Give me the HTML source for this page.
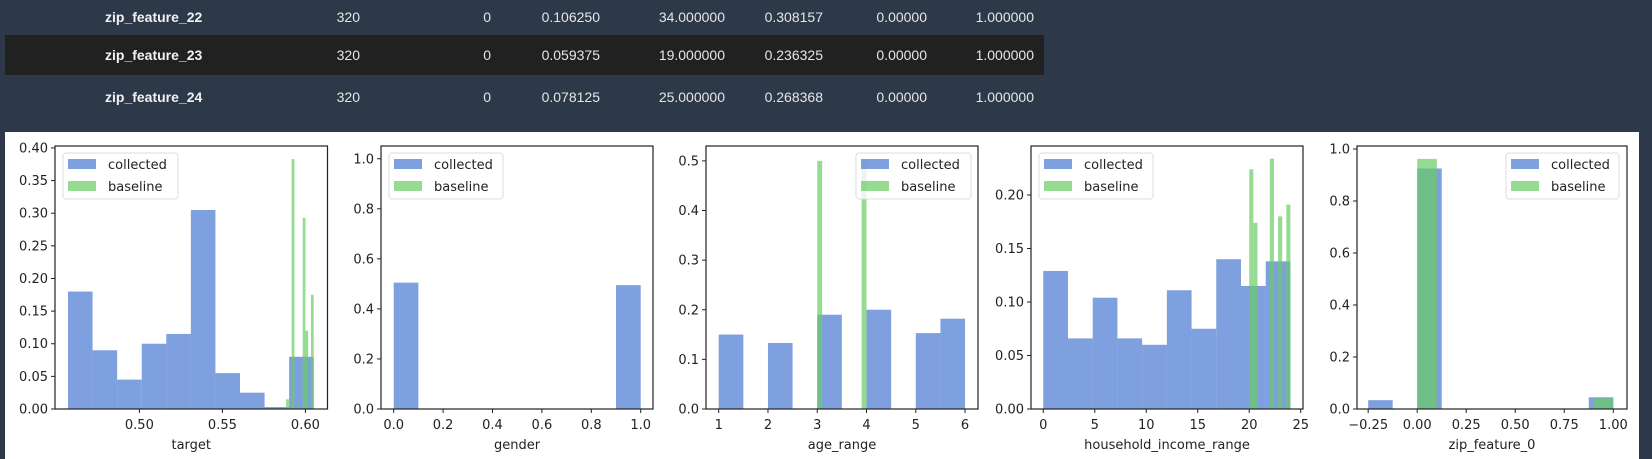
<!DOCTYPE html>
<html><head><meta charset="utf-8">
<style>
html,body{margin:0;padding:0;}
body{width:1652px;height:459px;background:#2d3849;position:relative;overflow:hidden;font-family:"Liberation Sans",sans-serif;}
.row{position:absolute;left:5px;width:1039px;height:38px;}
.cell{position:absolute;top:0;line-height:38px;font-size:14px;color:#e6e6e6;white-space:nowrap;}
.name{font-weight:bold;color:#f2f2f2;left:100px;}
.r{text-align:right;}
#panel{position:absolute;left:5px;top:132px;width:1634px;height:327px;background:#fff;}
svg{position:absolute;left:0;top:0;}
</style></head><body>
<div class="row" style="top:-2px;">
 <div class="cell name">zip_feature_22</div>
 <div class="cell r" style="right:684px">320</div>
 <div class="cell r" style="right:553px">0</div>
 <div class="cell r" style="right:444px">0.106250</div>
 <div class="cell r" style="right:319px">34.000000</div>
 <div class="cell r" style="right:221px">0.308157</div>
 <div class="cell r" style="right:117px">0.00000</div>
 <div class="cell r" style="right:10px">1.000000</div>
</div>
<div class="row" style="top:35px;background:#212121;height:40px;">
 <div class="cell name" style="line-height:40px">zip_feature_23</div>
 <div class="cell r" style="right:684px;line-height:40px">320</div>
 <div class="cell r" style="right:553px;line-height:40px">0</div>
 <div class="cell r" style="right:444px;line-height:40px">0.059375</div>
 <div class="cell r" style="right:319px;line-height:40px">19.000000</div>
 <div class="cell r" style="right:221px;line-height:40px">0.236325</div>
 <div class="cell r" style="right:117px;line-height:40px">0.00000</div>
 <div class="cell r" style="right:10px;line-height:40px">1.000000</div>
</div>
<div class="row" style="top:78px;">
 <div class="cell name">zip_feature_24</div>
 <div class="cell r" style="right:684px">320</div>
 <div class="cell r" style="right:553px">0</div>
 <div class="cell r" style="right:444px">0.078125</div>
 <div class="cell r" style="right:319px">25.000000</div>
 <div class="cell r" style="right:221px">0.268368</div>
 <div class="cell r" style="right:117px">0.00000</div>
 <div class="cell r" style="right:10px">1.000000</div>
</div>
<div id="panel"></div>
<svg id="chart" width="1652" height="459"></svg>
<script>
// ---- data ----
const targetCollected=[0.18,0.09,0.045,0.10,0.115,0.305,0.055,0.025,0.003,0.08];
const targetCollectedRange=[0.457,0.605];
const targetBaseline=[0.015,0,0.383,0,0.005,0,0.293,0.12,0,0.175];
const targetBaselineRange=[0.5884,0.605];
const targetXTicks=[0.50,0.55,0.60];
const targetYTicks=[0,0.05,0.10,0.15,0.20,0.25,0.30,0.35,0.40];

const genderCollected=[0.505,0,0,0,0,0,0,0,0,0.495];
const genderCollectedRange=[0,1];
const genderBaseline=[];
const genderBaselineRange=[0,1];
const genderXTicks=[0,0.2,0.4,0.6,0.8,1.0];
const genderYTicks=[0,0.2,0.4,0.6,0.8,1.0];

const ageCollected=[0.15,0,0.133,0,0.19,0,0.2,0,0.153,0.182];
const ageCollectedRange=[1,6];
const ageBaseline=[0.5,0,0,0,0,0,0,0,0,0.5];
const ageBaselineRange=[3,4];
const ageXTicks=[1,2,3,4,5,6];
const ageYTicks=[0,0.1,0.2,0.3,0.4,0.5];

const incomeCollected=[0.129,0.066,0.104,0.066,0.060,0.111,0.075,0.140,0.115,0.138];
const incomeCollectedRange=[0,24];
const incomeBaseline=[0.224,0.174,0,0,0,0.234,0,0.180,0,0.191];
const incomeBaselineRange=[20,24];
const incomeXTicks=[0,5,10,15,20,25];
const incomeYTicks=[0,0.05,0.10,0.15,0.20];

const zipCollected=[0.034,0,0.925,0,0,0,0,0,0,0.045];
const zipCollectedRange=[-0.25,1.0];
const zipBaseline=[0.962,0,0,0,0,0,0,0,0,0.041];
const zipBaselineRange=[0,1];
const zipXTicks=[-0.25,0,0.25,0.5,0.75,1.0];
const zipYTicks=[0,0.2,0.4,0.6,0.8,1.0];

// ---- layout (pixels) ----
const plots=[
 {key:'target',label:'target',L:55,R:327.5,xd:[0.44916,0.61331],yMax:0.403,xt:targetXTicks,yt:targetYTicks,xf:2,yf:2,c:targetCollected,cr:targetCollectedRange,b:targetBaseline,br:targetBaselineRange,leg:[63,178]},
 {key:'gender',label:'gender',L:381,R:653,xd:[-0.0514,1.0498],yMax:1.051,xt:genderXTicks,yt:genderYTicks,xf:1,yf:1,c:genderCollected,cr:genderCollectedRange,b:genderBaseline,br:genderBaselineRange,leg:[389,503]},
 {key:'age-range',label:'age_range',L:706,R:978,xd:[0.742,6.263],yMax:0.530,xt:ageXTicks,yt:ageYTicks,xf:0,yf:1,c:ageCollected,cr:ageCollectedRange,b:ageBaseline,br:ageBaselineRange,leg:[856,971]},
 {key:'household-income-range',label:'household_income_range',L:1031,R:1303,xd:[-1.19,25.22],yMax:0.2458,xt:incomeXTicks,yt:incomeYTicks,xf:0,yf:2,c:incomeCollected,cr:incomeCollectedRange,b:incomeBaseline,br:incomeBaselineRange,leg:[1039,1153]},
 {key:'zip-feature-0',label:'zip_feature_0',L:1357,R:1627,xd:[-0.307,1.070],yMax:1.0115,xt:zipXTicks,yt:zipYTicks,xf:2,yf:1,c:zipCollected,cr:zipCollectedRange,b:zipBaseline,br:zipBaselineRange,leg:[1506,1619]}
];
const TOP=146,BOT=409;
const NS='http://www.w3.org/2000/svg';
const svg=document.getElementById('chart');
function mk(tag,attrs,parent){const e=document.createElementNS(NS,tag);for(const k in attrs)e.setAttribute(k,attrs[k]);(parent||svg).appendChild(e);return e;}
const FONT='"DejaVu Sans","Liberation Sans",sans-serif';
plots.forEach(p=>{
 const g=mk('g',{});
 
 
 const xs=v=>p.L+(v-p.xd[0])/(p.xd[1]-p.xd[0])*(p.R-p.L);
 const ys=v=>BOT-v/p.yMax*(BOT-TOP);
 function bars(arr,rng,color,name){
  const n=arr.length,w=(rng[1]-rng[0])/n;
  arr.forEach((v,i)=>{ if(v<=0)return;
   const x0=xs(rng[0]+i*w),x1=xs(rng[0]+(i+1)*w);
   const r=mk('rect',{x:x0,y:ys(v),width:x1-x0,height:BOT-ys(v),fill:color,'fill-opacity':0.7},g);
   
   
  });
 }
 bars(p.c,p.cr,'#4878d0','collected');
 bars(p.b,p.br,'#6acc64','baseline');
 const fr=mk('rect',{x:p.L,y:TOP,width:p.R-p.L,height:BOT-TOP,fill:'none',stroke:'#222',"stroke-width":1.2},g);
 
 
 p.xt.forEach(t=>{const x=xs(t);
  mk('line',{x1:x,x2:x,y1:BOT,y2:BOT+4,stroke:'#222'},g);
  const tx=mk('text',{x:x,y:BOT+20,'text-anchor':'middle','font-size':13,fill:'#222','font-family':FONT},g);
  tx.textContent=(t<0?'\u2212':'')+Math.abs(t).toFixed(p.xf);
  
  
 });
 p.yt.forEach(t=>{const y=ys(t);
  mk('line',{x1:p.L-4,x2:p.L,y1:y,y2:y,stroke:'#222'},g);
  const tx=mk('text',{x:p.L-7,y:y+4.5,'text-anchor':'end','font-size':13,fill:'#222','font-family':FONT},g);
  tx.textContent=t.toFixed(p.yf);
  
  
 });
 const xl=mk('text',{x:(p.L+p.R)/2,y:BOT+40,'text-anchor':'middle','font-size':13,fill:'#222','font-family':FONT},g);
 xl.textContent=p.label;
 
 
 const lg=mk('g',{},g);
 
 
 const lx=p.leg[0],lw=p.leg[1]-p.leg[0];
 mk('rect',{x:lx,y:153,width:lw,height:46,rx:3,fill:'#fff','fill-opacity':0.8,stroke:'#ddd'},lg);
 [['collected','#4878d0',164],['baseline','#6acc64',186]].forEach(([t,c,y])=>{
  const e=mk('g',{},lg);
  
  
  mk('rect',{x:lx+5,y:y-5,width:28,height:10,fill:c,'fill-opacity':0.7},e);
  const tt=mk('text',{x:lx+45,y:y+5,'font-size':13,fill:'#222','font-family':FONT},e);
  tt.textContent=t;
 });
});
</script>
</body></html>
